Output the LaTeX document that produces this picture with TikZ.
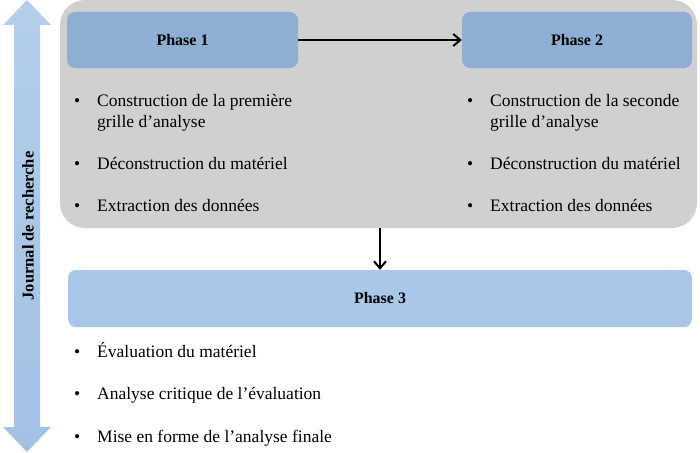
\documentclass[tikz,border=0pt]{standalone}
\usepackage{fontspec}
\setmainfont{Liberation Serif}
\usetikzlibrary{positioning, arrows.meta}
\definecolor{gris}{HTML}{D0D0D0}
\definecolor{bleuphase}{HTML}{8FAED4}
\definecolor{bleuclair}{HTML}{A9C7E8}
\definecolor{bleuhaut}{HTML}{B4CEEB}
\definecolor{bleubas}{HTML}{A2C1E5}
\newcommand{\puce}{\llap{\textbullet\hspace{17pt}}}
\tikzset{
>={Straight Barb[length=7pt,width=12pt]},
phase/.style={fill=bleuphase, rounded corners=8pt, minimum height=56pt, font=\fontsize{16}{19}\selectfont\bfseries},
item/.style={anchor=base west, inner sep=0pt, align=left, font=\fontsize{17.5}{21}\selectfont},
fleche/.style={->, line width=2pt},
}
\begin{document}
\begin{tikzpicture}[x=1pt, y=-1pt]
    \useasboundingbox (0,0) rectangle (700,452);
    % journal de recherche
    \shade[top color=bleuhaut, bottom color=bleubas] (27,0) -- (51,25) -- (40,25) -- (40,427) -- (51,427) -- (27,452) -- (3,427) -- (14,427) -- (14,25) -- (3,25) -- cycle;
    \node[rotate=90, font=\fontsize{16.5}{20}\selectfont\bfseries] (journal) at (28,226) {Journal de recherche};
    % phases 1 et 2
    \node[fill=gris, rounded corners=25pt, minimum width=637pt, minimum height=228pt, inner sep=0pt] (cadre) at (378.5,114) {};
    \node[phase, minimum width=231pt] (p1) at (182.5,40) {Phase 1};
    \node[phase, minimum width=230pt] (p2) at (577,40) {Phase 2};
    \draw[fleche] (p1) -- (p2);
    \node[item] (p1a) at (97,127) {\puce Construction de la première\\grille d’analyse};
    \node[item] (p1b) at (97,169) {\puce Déconstruction du matériel};
    \node[item] (p1c) at (97,211) {\puce Extraction des données};
    \node[item] (p2a) at (490,127) {\puce Construction de la seconde\\grille d’analyse};
    \node[item] (p2b) at (490,169) {\puce Déconstruction du matériel};
    \node[item] (p2c) at (490,211) {\puce Extraction des données};
    % phase 3
    \node[phase, fill=bleuclair, minimum width=624pt, minimum height=57pt] (p3) at (380,298.5) {Phase 3};
    \draw[fleche] (cadre.south -| p3.north) -- (p3.north);
    \node[item] (p3a) at (97,357) {\puce Évaluation du matériel};
    \node[item] (p3b) at (97,399) {\puce Analyse critique de l’évaluation};
    \node[item] (p3c) at (97,442) {\puce Mise en forme de l’analyse finale};
\end{tikzpicture}
\end{document}
